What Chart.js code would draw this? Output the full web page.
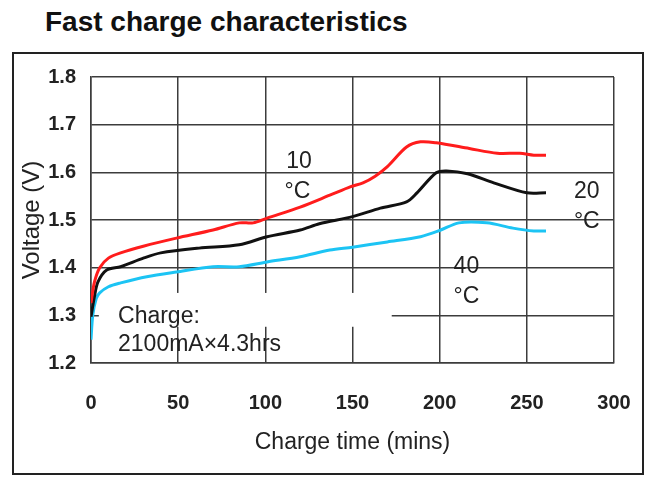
<!DOCTYPE html>
<html>

<head>
    <title>Fast charge characteristics</title>
    <script src="https://cdn.jsdelivr.net/npm/chart.js"></script>
    <style>
        body {
            margin: 0;
            background: #fff;
            font-family: 'Liberation Sans', Arial, sans-serif;
        }

        #title {
            position: absolute;
            left: 45px;
            top: 7px;
            font-size: 28px;
            line-height: 30px;
            font-weight: bold;
            color: #111;
        }

        #frame {
            position: absolute;
            left: 12px;
            top: 52px;
            width: 632px;
            height: 423px;
            box-sizing: border-box;
            border: 2px solid #222;
        }
    </style>
</head>

<body>

    <div id="title">Fast charge characteristics</div>
    <div id="frame">
        <canvas id="myChart"></canvas>
    </div>

    <script>
        // 10 °C (red)
        const time10 = [0, 2, 5, 10, 17, 30, 49, 70, 85, 93, 101, 120, 137, 149, 156, 163, 170, 181, 189, 198, 217, 233, 246, 254, 261];
        const volt10 = [1.326, 1.37, 1.40, 1.42, 1.431, 1.445, 1.462, 1.479, 1.494, 1.494, 1.504, 1.527, 1.552, 1.57, 1.578, 1.592, 1.612, 1.653, 1.664, 1.662, 1.65, 1.64, 1.64, 1.636, 1.636];

        // 20 °C (black)
        const time20 = [0, 2, 4, 9, 17, 30, 40, 62, 85, 101, 120, 131, 150, 166, 181, 187, 198, 204, 216, 231, 250, 261];
        const volt20 = [1.297, 1.34, 1.37, 1.395, 1.402, 1.42, 1.431, 1.441, 1.448, 1.465, 1.479, 1.492, 1.507, 1.525, 1.538, 1.557, 1.599, 1.603, 1.597, 1.578, 1.557, 1.557];

        // 40 °C (light blue)
        const time40 = [0, 1, 3, 5, 10, 17, 32, 49, 70, 85, 101, 120, 137, 150, 170, 189, 200, 211, 227, 242, 254, 261];
        const volt40 = [1.249, 1.30, 1.335, 1.347, 1.36, 1.368, 1.381, 1.391, 1.402, 1.402, 1.412, 1.423, 1.437, 1.443, 1.454, 1.465, 1.478, 1.494, 1.494, 1.483, 1.477, 1.477];

        // axis ticks
        const xTicks = [0, 50, 100, 150, 200, 250, 300];
        const yTicks = [1.2, 1.3, 1.4, 1.5, 1.6, 1.7, 1.8];

        // text written on the plot, placed in data units
        const notes = [
            { text: '10', x: 112, y: 1.622 },
            { text: '°C', x: 111, y: 1.559 },
            { text: '20', x: 277, y: 1.559 },
            { text: '°C', x: 277, y: 1.496 },
            { text: '40', x: 208, y: 1.402 },
            { text: '°C', x: 208, y: 1.339 },
            { text: 'Charge:', x: 15.5, y: 1.297 },
            { text: '2100mA×4.3hrs', x: 15.5, y: 1.238 }
        ];

        const toPoints = (xs, ys) => xs.map((x, i) => ({ x: x, y: ys[i] }));

        Chart.defaults.font.family = "'Liberation Sans', Arial, sans-serif";
        Chart.defaults.color = '#222';

        const gridColor = '#3c3c3c';

        // the grid has a blank patch behind the "Charge:" note
        const gapPlugin = {
            id: 'gap',
            beforeDatasetsDraw(chart) {
                const { ctx, scales: { x, y } } = chart;
                const x0 = x.getPixelForValue(4.5), x1 = x.getPixelForValue(172.5);
                const y0 = y.getPixelForValue(1.347), y1 = y.getPixelForValue(1.276);
                ctx.save();
                ctx.fillStyle = '#fff';
                ctx.fillRect(x0, y0, x1 - x0, y1 - y0);
                ctx.restore();
            }
        };

        const notesPlugin = {
            id: 'notes',
            afterDatasetsDraw(chart) {
                const { ctx, scales: { x, y } } = chart;
                ctx.save();
                ctx.font = "23px 'Liberation Sans', Arial, sans-serif";
                ctx.fillStyle = '#222';
                ctx.textAlign = 'left';
                ctx.textBaseline = 'middle';
                notes.forEach(n => {
                    ctx.fillText(n.text, x.getPixelForValue(n.x), y.getPixelForValue(n.y));
                });
                ctx.restore();
            }
        };

        const lineStyle = { borderWidth: 3, pointRadius: 0, tension: 0.3, fill: false };

        const config = {
            type: 'line',
            data: {
                datasets: [
                    { label: '10 °C', data: toPoints(time10, volt10), borderColor: '#ff1c1c', ...lineStyle },
                    { label: '20 °C', data: toPoints(time20, volt20), borderColor: '#111111', ...lineStyle },
                    { label: '40 °C', data: toPoints(time40, volt40), borderColor: '#1cc4f4', ...lineStyle }
                ]
            },
            options: {
                responsive: true,
                maintainAspectRatio: false,
                animation: false,
                layout: { padding: { top: 23, right: 28, left: 0, bottom: 0 } },
                plugins: {
                    legend: { display: false },
                    title: { display: false },
                    tooltip: { enabled: false }
                },
                scales: {
                    x: {
                        type: 'linear',
                        min: 0,
                        max: 300,
                        afterBuildTicks: axis => { axis.ticks = xTicks.map(v => ({ value: v })); },
                        grid: { color: gridColor, lineWidth: 1.5, drawTicks: false },
                        border: { color: gridColor, width: 1.5 },
                        ticks: { font: { size: 20, weight: 'bold' }, color: '#222', padding: 28 },
                        title: {
                            display: true,
                            text: 'Charge time (mins)',
                            font: { size: 23 },
                            color: '#222',
                            padding: { top: 0, bottom: 17 }
                        },
                        afterFit: axis => {
                            axis.height = 110;
                            axis.paddingLeft = 0;
                            axis.paddingRight = 0;
                        }
                    },
                    y: {
                        min: 1.2,
                        max: 1.8,
                        afterBuildTicks: axis => { axis.ticks = yTicks.map(v => ({ value: v })); },
                        grid: { color: gridColor, lineWidth: 1.5, drawTicks: false },
                        border: { color: gridColor, width: 1.5 },
                        ticks: {
                            font: { size: 20, weight: 'bold' },
                            color: '#222',
                            padding: 15,
                            callback: v => v.toFixed(1)
                        },
                        title: {
                            display: true,
                            text: 'Voltage (V)',
                            font: { size: 24 },
                            color: '#222',
                            padding: { top: 4, bottom: 0 }
                        },
                        afterFit: axis => {
                            axis.width = 77;
                            axis.paddingTop = 0;
                            axis.paddingBottom = 0;
                        }
                    }
                }
            },
            plugins: [gapPlugin, notesPlugin]
        };

        const myChart = new Chart(document.getElementById('myChart'), config);
    </script>

</body>

</html>
